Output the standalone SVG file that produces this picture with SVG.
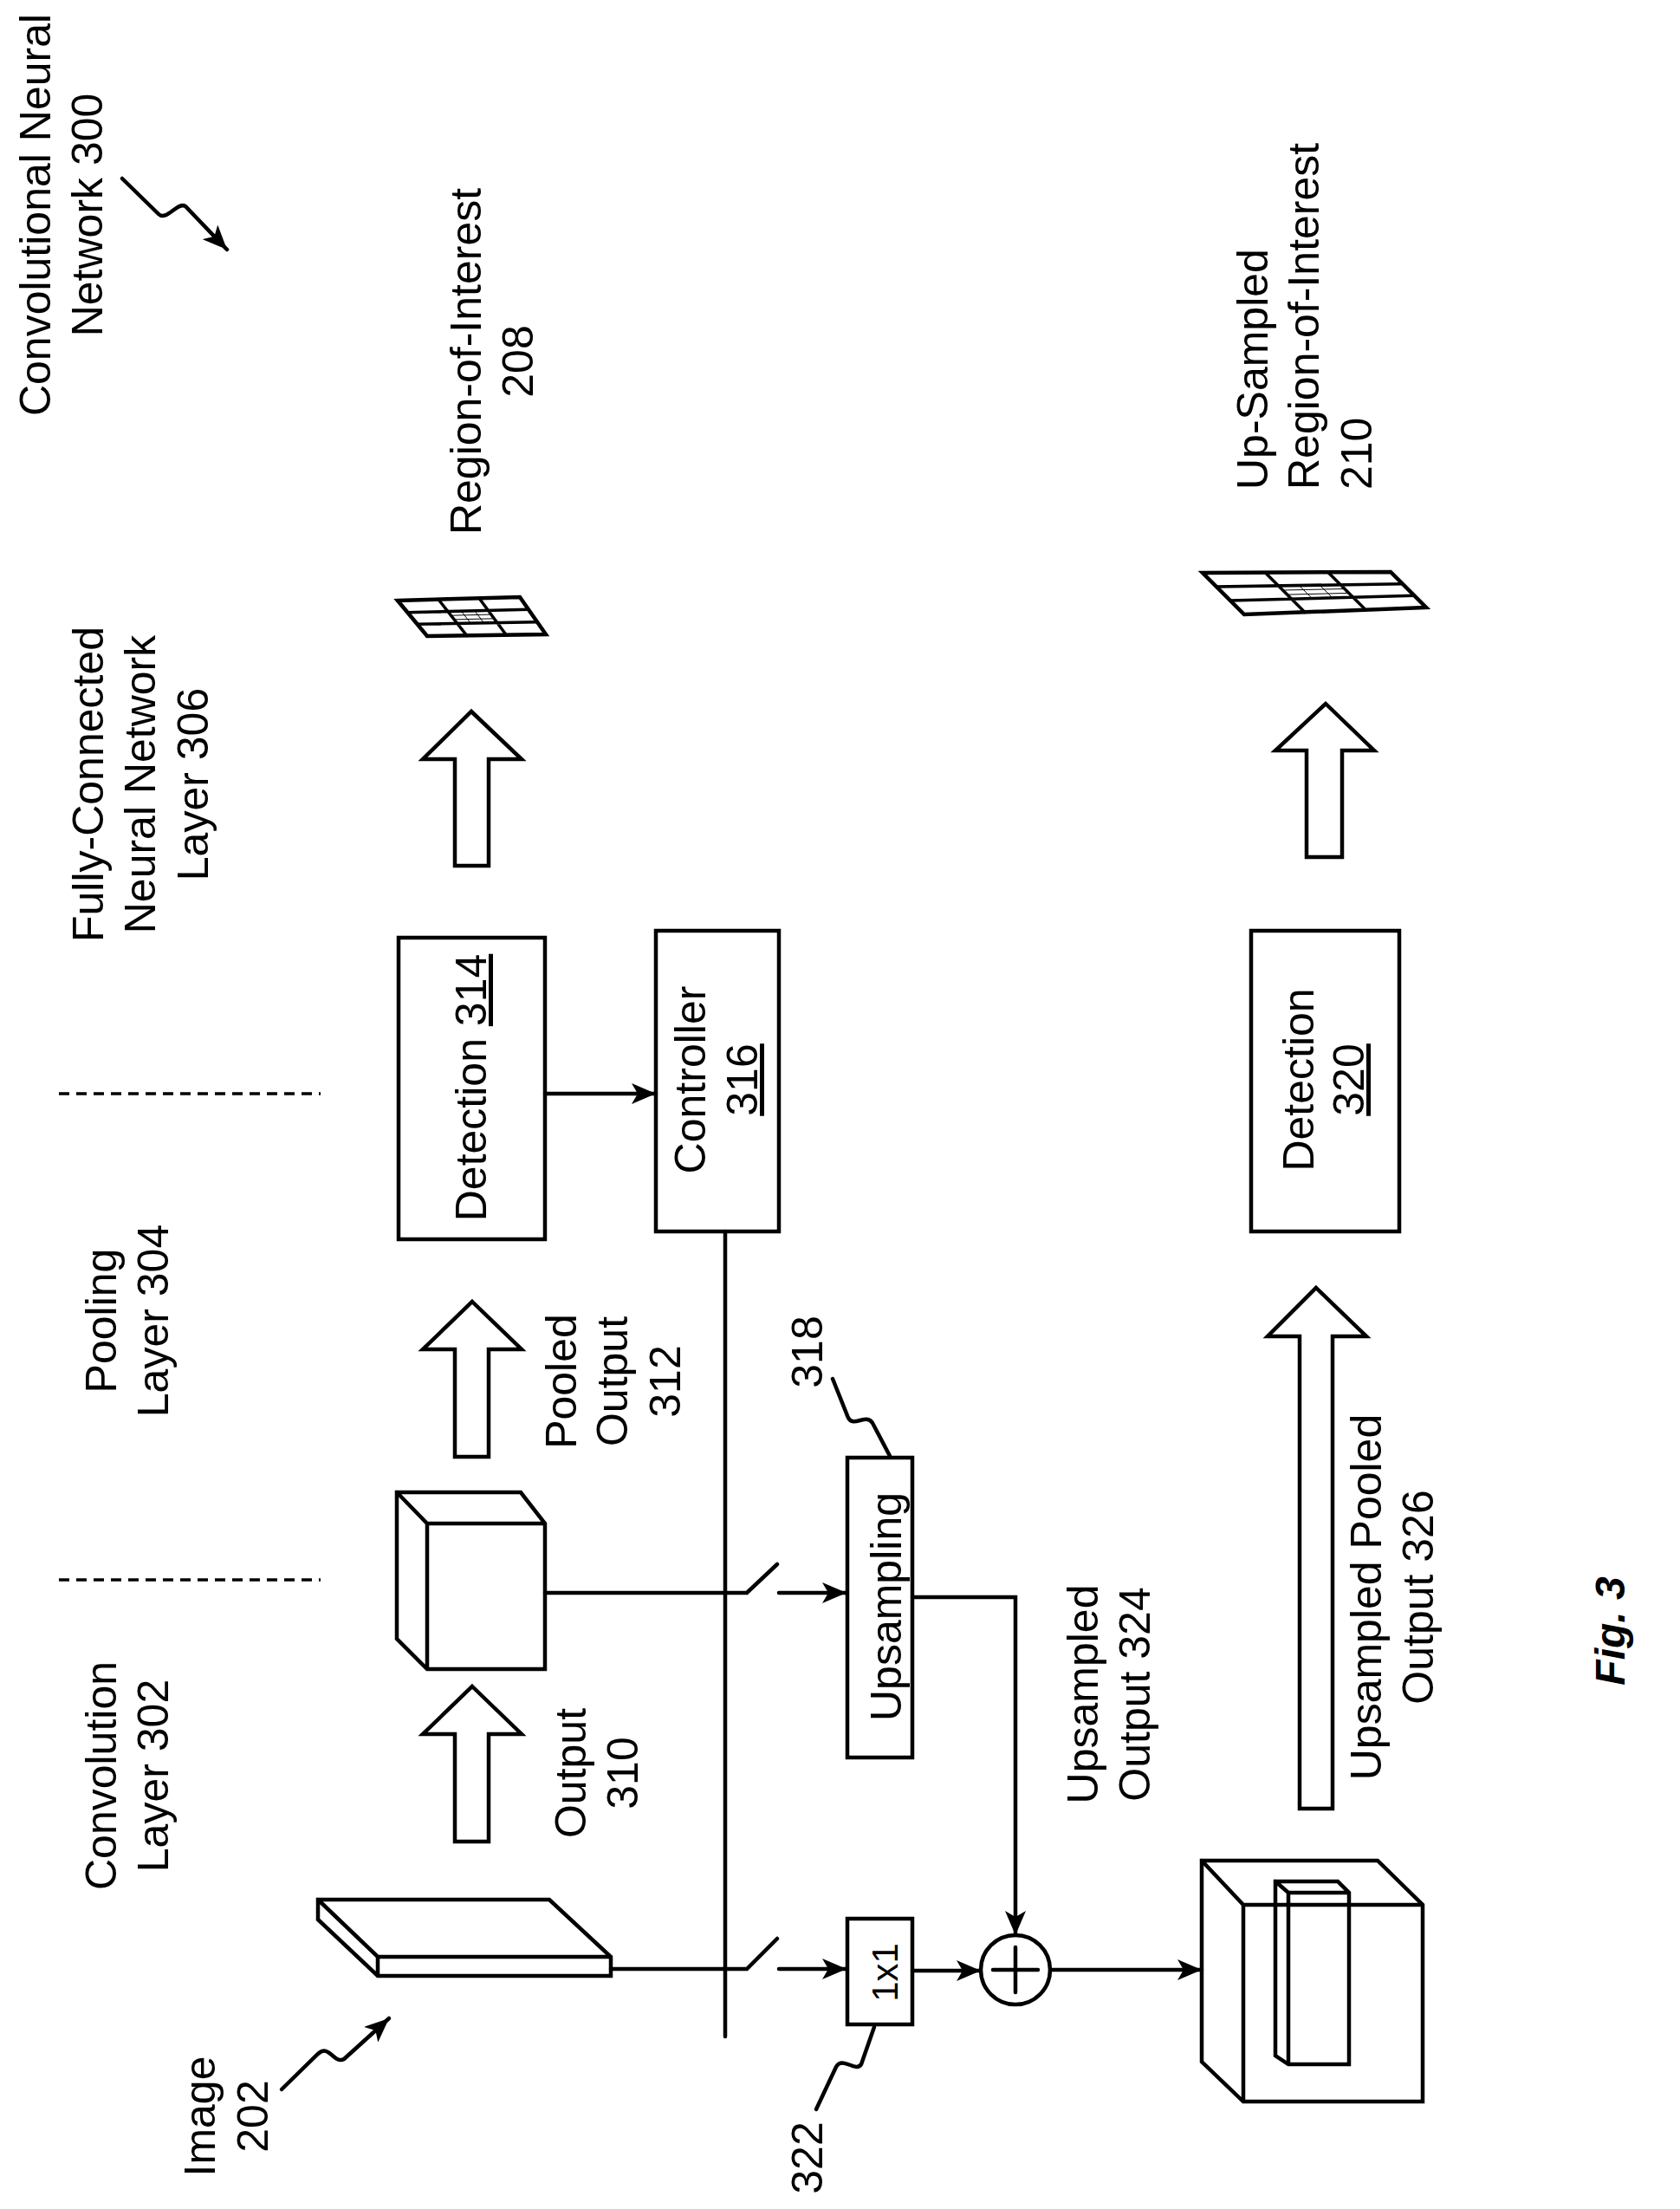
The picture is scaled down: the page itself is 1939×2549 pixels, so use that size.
<svg xmlns="http://www.w3.org/2000/svg" width="1939" height="2549" viewBox="0 0 1939 2549">
<style>
.s{fill:none;stroke:#000;stroke-width:4.5;stroke-linejoin:miter;stroke-linecap:round}
.w{fill:#fff;stroke:#000;stroke-width:4.5;stroke-linejoin:miter}
.thin{fill:none;stroke:#000;stroke-width:1}
text{font-family:"Liberation Sans",Arial,sans-serif;font-size:50px;fill:#000}
.dash{fill:none;stroke:#000;stroke-width:3.5;stroke-dasharray:12 8}
</style>
<defs>
<marker id="ah" markerUnits="userSpaceOnUse" markerWidth="30" markerHeight="24" refX="28" refY="12" orient="auto">
<path d="M0,0 L28,12 L0,24 L7,12 Z" fill="#000"/>
</marker>
</defs>
<rect width="1939" height="2549" fill="#fff"/>

<g id="labels">
<text transform="translate(58,248) rotate(-90)" text-anchor="middle">Convolutional Neural</text>
<text transform="translate(118,248) rotate(-90)" text-anchor="middle">Network 300</text>
<text transform="translate(119,905) rotate(-90)" text-anchor="middle">Fully-Connected</text>
<text transform="translate(179,905) rotate(-90)" text-anchor="middle">Neural Network</text>
<text transform="translate(240,905) rotate(-90)" text-anchor="middle">Layer 306</text>
<text transform="translate(134,1524) rotate(-90)" text-anchor="middle">Pooling</text>
<text transform="translate(194,1524) rotate(-90)" text-anchor="middle">Layer 304</text>
<text transform="translate(134,2049) rotate(-90)" text-anchor="middle">Convolution</text>
<text transform="translate(194,2049) rotate(-90)" text-anchor="middle">Layer 302</text>
<text transform="translate(248,2442) rotate(-90)" text-anchor="middle">Image</text>
<text transform="translate(309,2442) rotate(-90)" text-anchor="middle">202</text>
<text transform="translate(555,417) rotate(-90)" text-anchor="middle">Region-of-Interest</text>
<text transform="translate(615,417) rotate(-90)" text-anchor="middle">208</text>
<text transform="translate(1463,565) rotate(-90)">Up-Sampled</text>
<text transform="translate(1522,565) rotate(-90)">Region-of-Interest</text>
<text transform="translate(1583,565) rotate(-90)">210</text>
<text transform="translate(665,1594) rotate(-90)" text-anchor="middle">Pooled</text>
<text transform="translate(724,1594) rotate(-90)" text-anchor="middle">Output</text>
<text transform="translate(785,1594) rotate(-90)" text-anchor="middle">312</text>
<text transform="translate(676,2046) rotate(-90)" text-anchor="middle">Output</text>
<text transform="translate(736,2046) rotate(-90)" text-anchor="middle">310</text>
<text transform="translate(949,1560) rotate(-90)" text-anchor="middle">318</text>
<text transform="translate(949,2490) rotate(-90)" text-anchor="middle">322</text>
<text transform="translate(1267,1955) rotate(-90)" text-anchor="middle">Upsampled</text>
<text transform="translate(1327,1955) rotate(-90)" text-anchor="middle">Output 324</text>
<text transform="translate(1594,1843) rotate(-90)" text-anchor="middle">Upsampled Pooled</text>
<text transform="translate(1654,1843) rotate(-90)" text-anchor="middle">Output 326</text>
<text transform="translate(1875,1882) rotate(-90)" text-anchor="middle" style="font-weight:bold;font-style:italic;font-size:48px">Fig. 3</text>
<line class="dash" x1="68" y1="1262" x2="370" y2="1262"/>
<line class="dash" x1="68" y1="1823" x2="370" y2="1823"/>
<path class="s" d="M141,206 L183,247 C192,256 205,232 214,238 L262,288" marker-end="url(#ah)"/>
<path class="s" d="M325,2411 L367,2370 C380,2358 385,2382 397,2376 L449,2329" marker-end="url(#ah)"/>
<path class="s" d="M942,2434 L965,2385 C972,2372 988,2392 994,2382 L1009,2339"/>
<path class="s" d="M961,1591 L979,1636 C985,1648 1000,1630 1007,1642 L1027,1680"/>
</g>

<g id="roi208">
<polygon class="s" points="459,693 600,689 630,732 493,734"/>
<path class="s" style="stroke-width:3.5" d="M506,691.7 L538.7,733.3 M553,690.3 L584.3,732.7 M470.3,706.7 L610,703.3 M481.7,720.3 L620,717.7"/>
<path class="thin" d="M532.4,705.2 L543.2,719.1 M547.9,704.9 L558.5,718.8 M520.5,710.2 L566.9,709.1 M524.2,714.9 L570.4,713.8"/>
</g>
<g id="roi210">
<polygon class="s" points="1388,661 1605,660 1646,701 1436,709"/>
<path class="s" style="stroke-width:3.5" d="M1460.3,660.7 L1506,706.4 M1532.7,660.3 L1576,703.6 M1404,677 L1618.7,673.7 M1420,693 L1632.3,687.3"/>
<path class="thin" d="M1499.4,675.6 L1514.3,690.5 M1523.3,675.4 L1538,689.8 M1480.6,681 L1551.9,679.5 M1485.7,686.1 L1556.8,684.4"/>
</g>

<g id="arrows-hollow">
<polygon class="w" points="544,821 602,876 564,876 564,999 525,999 525,876 488,876"/>
<polygon class="w" points="545,1502 602,1557 564,1557 564,1681 525,1681 525,1557 488,1557"/>
<polygon class="w" points="545,1946 602,2001 564,2001 564,2125 525,2125 525,2001 488,2001"/>
<polygon class="w" points="1530,812 1586,866 1549,866 1549,989 1508,989 1508,866 1472,866"/>
<polygon class="w" points="1519,1486 1577,1542 1538,1542 1538,2087 1500,2087 1500,1542 1463,1542"/>
</g>

<g id="detection314">
<rect class="w" x="460" y="1082" width="169" height="348"/>
<text transform="translate(561,1255) rotate(-90)" text-anchor="middle">Detection <tspan text-decoration="underline">314</tspan></text>
</g>
<g id="controller316">
<rect class="w" x="757" y="1074" width="142" height="347"/>
<text transform="translate(814,1246) rotate(-90)" text-anchor="middle">Controller</text>
<text transform="translate(874,1246) rotate(-90)" text-anchor="middle" text-decoration="underline">316</text>
</g>
<g id="detection320">
<rect class="w" x="1444" y="1074" width="171" height="347"/>
<text transform="translate(1516,1246) rotate(-90)" text-anchor="middle">Detection</text>
<text transform="translate(1574,1246) rotate(-90)" text-anchor="middle" text-decoration="underline">320</text>
</g>
<g id="upsampling318">
<rect class="w" x="978" y="1682" width="75" height="346"/>
<text transform="translate(1040,1854) rotate(-90)" text-anchor="middle">Upsampling</text>
</g>
<g id="conv322">
<rect class="w" x="978" y="2214" width="75" height="122"/>
<text transform="translate(1036,2276) rotate(-90)" text-anchor="middle" style="font-size:42px">1x1</text>
</g>
<g id="pooledcube">
<path class="s" d="M458,1722 L601,1722 L629,1758 L629,1926 L493,1926 L458,1891 Z M458,1722 L493,1758 L629,1758 M493,1758 L493,1926"/>
</g>
<g id="image202">
<path class="s" d="M367,2192 L634,2192 L705,2258 L705,2280 L436,2280 L367,2215 Z M367,2192 L436,2258 L705,2258 M436,2258 L436,2280"/>
</g>
<g id="adder">
<circle class="s" cx="1172" cy="2273" r="40"/>
<path class="s" d="M1146,2273 H1198 M1172,2247 V2299"/>
</g>
<g id="bigcube">
<path class="s" d="M1387,2147 L1590,2147 L1642,2198 L1642,2425 L1435,2425 L1387,2379 Z M1387,2147 L1435,2198 L1642,2198 M1435,2198 L1435,2425"/>
<path class="s" d="M1472,2171 L1544,2171 L1557,2184 L1557,2382 L1487,2382 L1472,2372 Z M1472,2171 L1487,2184 L1557,2184 M1487,2184 L1487,2382"/>
</g>

<g id="connectors">
<line class="s" x1="837" y1="1421" x2="837" y2="2350"/>
<line class="s" x1="629" y1="1262" x2="757" y2="1262" marker-end="url(#ah)"/>
<path class="s" d="M629,1838 L862,1838 L897,1805"/>
<line class="s" x1="899" y1="1838" x2="977" y2="1838" marker-end="url(#ah)"/>
<path class="s" d="M705,2272 L862,2272 L897,2237"/>
<line class="s" x1="899" y1="2272" x2="977" y2="2272" marker-end="url(#ah)"/>
<path class="s" d="M1053,1843 L1172,1843 L1172,2233" marker-end="url(#ah)"/>
<line class="s" x1="1053" y1="2274" x2="1132" y2="2274" marker-end="url(#ah)"/>
<line class="s" x1="1212" y1="2273" x2="1387" y2="2273" marker-end="url(#ah)"/>
</g>
</svg>
